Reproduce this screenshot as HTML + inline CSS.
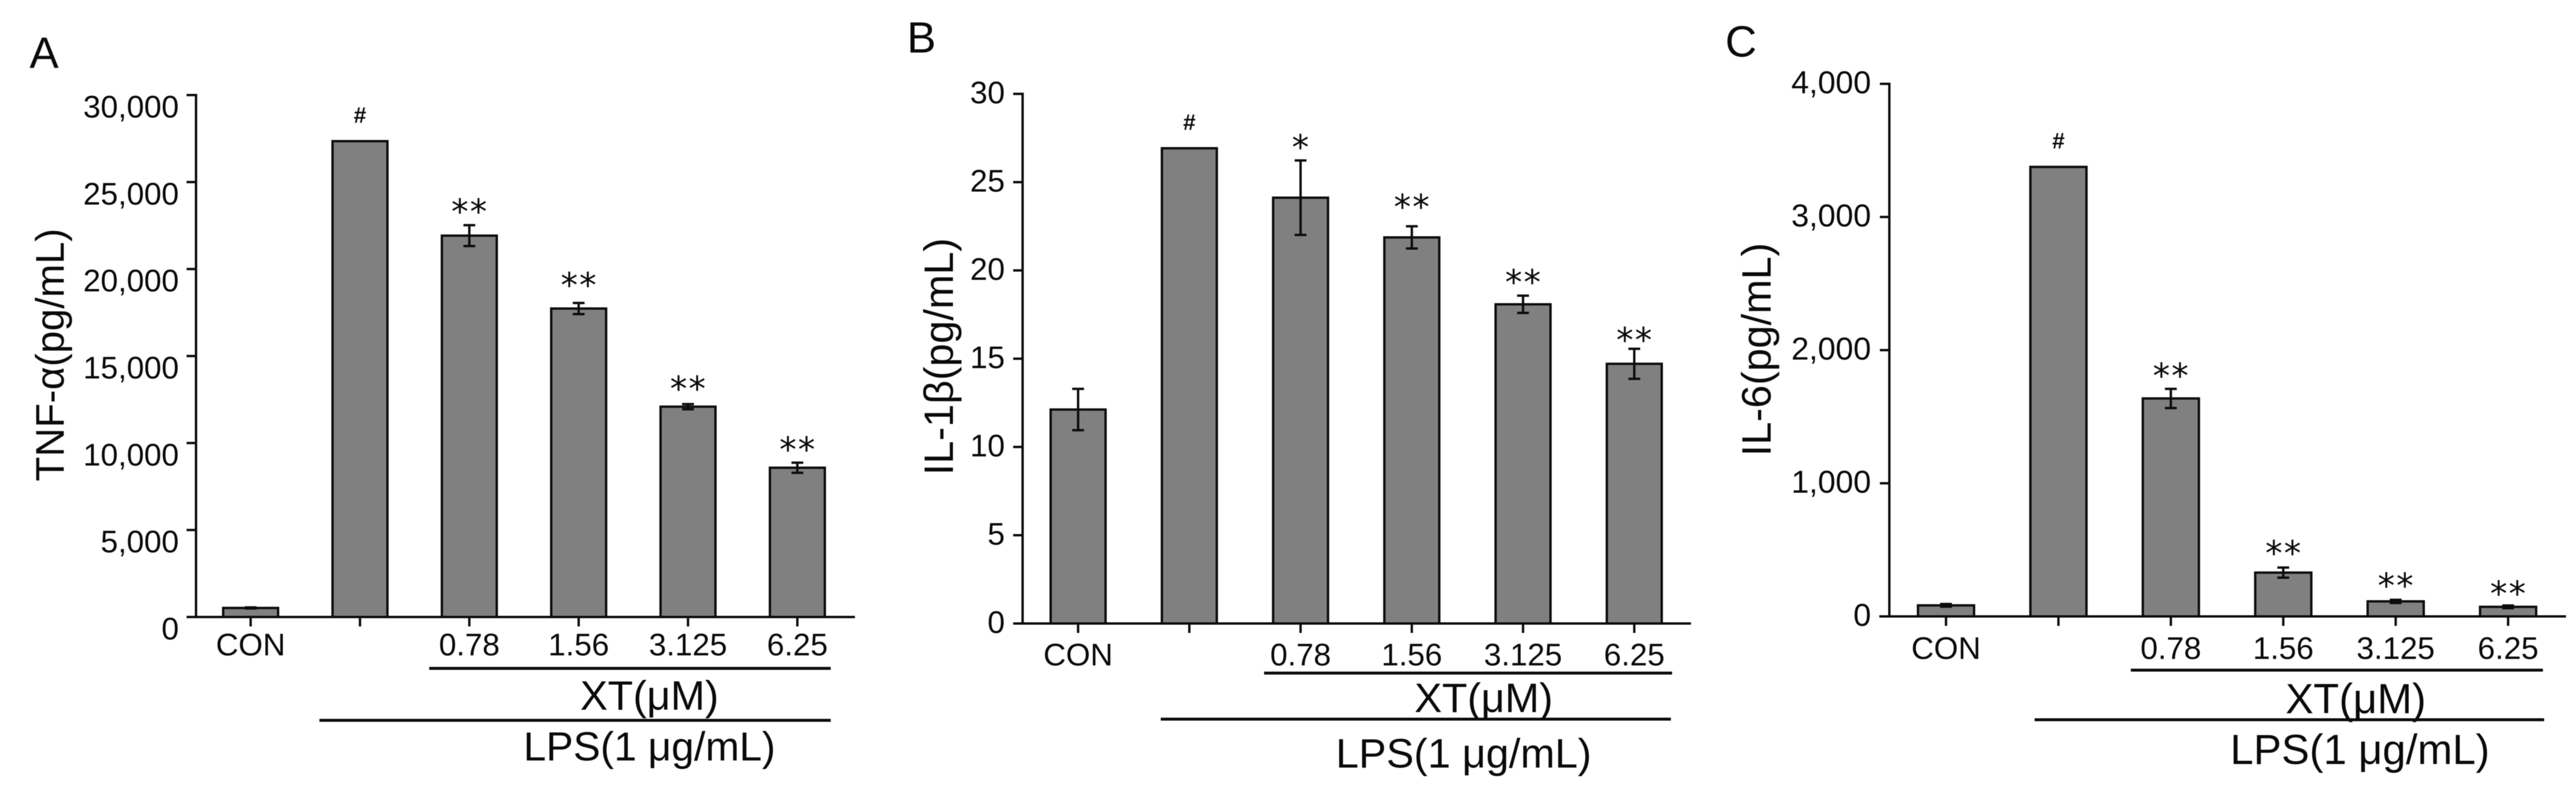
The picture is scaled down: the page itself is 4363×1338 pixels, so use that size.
<!DOCTYPE html>
<html lang="en">
<head>
<meta charset="utf-8">
<title>Cytokine bar charts</title>
<style>
html,body{margin:0;padding:0;background:#fff;width:4363px;height:1338px;overflow:hidden}
svg{display:block;filter:blur(0.5px)}
text{font-family:"Liberation Sans",Arial,sans-serif;fill:#0a0a0a}
</style>
</head>
<body>
<svg id="figure" xmlns="http://www.w3.org/2000/svg" width="4363" height="1338" viewBox="0 0 4363 1338"></svg>
<script>
// ---- data ----
const categories = ['CON', '', '0.78', '1.56', '3.125', '6.25'];

const tnfValues = [520, 27350, 21920, 17730, 12090, 8580];
const tnfErrors = [30, 0, 600, 322, 150, 290];
const tnfMarks = ['', '#', '**', '**', '**', '**'];
const tnfTicks = [0, 5000, 10000, 15000, 20000, 25000, 30000];

const il1Values = [12.12, 26.92, 24.12, 21.87, 18.08, 14.71];
const il1Errors = [1.17, 0, 2.11, 0.63, 0.49, 0.85];
const il1Marks = ['', '#', '*', '**', '**', '**'];
const il1Ticks = [0, 5, 10, 15, 20, 25, 30];

const il6Values = [83, 3376, 1637, 329, 113, 72];
const il6Errors = [10, 0, 72, 38, 12, 10];
const il6Marks = ['', '#', '**', '**', '**', '**'];
const il6Ticks = [0, 1000, 2000, 3000, 4000];

// ---- layout ----
const panels = [
  {id:'a', letter:'A', lx:50, ly:115, title:'TNF-α(pg/mL)', titleSize:68, tx:108, ty:601,
   values:tnfValues, errors:tnfErrors, marks:tnfMarks, ticks:tnfTicks, gaps:[0,0,33,40,36,32],
   axisX:332, top:161, base:1045, xStart:316, xEnd:1448, first:424.5, step:185.2, barW:93,
   labelRight:303, labelDy:38, labelSize:53, catBase:1110,
   xtLine:[727,1407,1132], xtText:[1100,1202], xtSize:70,
   lpsLine:[541,1407,1220], lpsText:[1100,1288], lpsSize:69},
  {id:'b', letter:'B', lx:1536, ly:89, title:'IL-1β(pg/mL)', titleSize:70, tx:1614, ty:604,
   values:il1Values, errors:il1Errors, marks:il1Marks, ticks:il1Ticks, gaps:[0,0,32,43,33,25],
   axisX:1732, top:159, base:1056, xStart:1716, xEnd:2864, first:1826, step:188.4, barW:93,
   labelRight:1702, labelDy:16, labelSize:53, catBase:1127,
   xtLine:[2141,2832,1140], xtText:[2513,1206], xtSize:70,
   lpsLine:[1966,2830,1218], lpsText:[2479,1300], lpsSize:70},
  {id:'c', letter:'C', lx:2922, ly:96, title:'IL-6(pg/mL)', titleSize:70, tx:2999, ty:592,
   values:il6Values, errors:il6Errors, marks:il6Marks, ticks:il6Ticks, gaps:[0,0,32,34,34,30],
   axisX:3200, top:142, base:1044, xStart:3183, xEnd:4346, first:3296, step:190.4, barW:95,
   labelRight:3169, labelDy:16, labelSize:54, catBase:1116,
   xtLine:[3609,4307,1135], xtText:[3990,1208], xtSize:71,
   lpsLine:[3446,4309,1219], lpsText:[3997,1294], lpsSize:71}
];

const NS = 'http://www.w3.org/2000/svg';
const svg = document.getElementById('figure');

function make(parent, tag, name, attrs, txt) {
  const el = document.createElementNS(NS, tag);
  
  
  for (const k in attrs) el.setAttribute(k, attrs[k]);
  if (txt !== undefined) el.textContent = txt;
  parent.appendChild(el);
  return el;
}
function line(parent, name, x1, y1, x2, y2, w, color) {
  return make(parent, 'line', name, {x1:x1, y1:y1, x2:x2, y2:y2, stroke:color || '#0c0c0c', 'stroke-width':w || 4});
}
function fmt(v) { return v.toLocaleString('en-US'); }

panels.forEach(function (p) {
  const g = make(svg, 'g', 'panel-' + p.id, {});
  const maxV = p.ticks[p.ticks.length - 1];
  const yScale = function (v) { return p.base - (v / maxV) * (p.base - p.top); };
  const xScale = function (i) { return p.first + i * p.step; };

  make(g, 'text', 'panel-letter-' + p.id, {x:p.lx, y:p.ly, 'font-size':74}, p.letter);
  make(g, 'text', 'y-axis-title-' + p.id, {x:0, y:0, 'font-size':p.titleSize, 'text-anchor':'middle',
    transform:'translate(' + p.tx + ' ' + p.ty + ') rotate(-90)'}, p.title);

  // bars
  p.values.forEach(function (v, i) {
    const y = yScale(v);
    make(g, 'rect', 'bar-' + p.id + '-' + i, {x:xScale(i) - p.barW / 2, y:y, width:p.barW, height:p.base - y,
      fill:'#808080', stroke:'#0c0c0c', 'stroke-width':4});
  });

  // error bars
  p.errors.forEach(function (e, i) {
    if (!e) return;
    const x = xScale(i), hi = yScale(p.values[i] + e), lo = yScale(p.values[i] - e);
    line(g, 'error-stem-' + p.id + '-' + i, x, hi, x, lo, 4);
    line(g, 'error-cap-top-' + p.id + '-' + i, x - 10, hi, x + 10, hi, 4);
    line(g, 'error-cap-bottom-' + p.id + '-' + i, x - 10, lo, x + 10, lo, 4);
  });

  // significance marks
  p.marks.forEach(function (m, i) {
    if (!m) return;
    const x = xScale(i);
    if (m === '#') {
      make(g, 'text', 'hash-mark-' + p.id, {x:x, y:yScale(p.values[i]) - 31, 'font-size':38, 'font-weight':'bold', 'text-anchor':'middle'}, m);
    } else {
      const t = make(g, 'text', 'significance-mark-' + p.id + '-' + i,
        {x:x + 1, y:yScale(p.values[i] + p.errors[i]) - p.gaps[i] + 30, 'font-size':58, 'text-anchor':'middle', 'letter-spacing':2.5}, m);
      t.style.fontFamily = '"DejaVu Sans", sans-serif';
    }
  });

  // y axis
  line(g, 'y-axis-' + p.id, p.axisX, p.top - 2, p.axisX, p.base, 4);
  p.ticks.forEach(function (t) {
    const y = yScale(t);
    line(g, 'y-tick-' + p.id + '-' + t, p.axisX - 16, y, p.axisX, y, 4);
    make(g, 'text', 'y-tick-label-' + p.id + '-' + t,
      {x:p.labelRight, y:y + p.labelDy, 'font-size':p.labelSize, 'text-anchor':'end'}, fmt(t));
  });

  // x axis
  line(g, 'x-axis-' + p.id, p.xStart, p.base, p.xEnd, p.base, 4);
  categories.forEach(function (c, i) {
    const x = xScale(i);
    line(g, 'x-tick-' + p.id + '-' + i, x, p.base, x, p.base + 16, 4);
    if (c) make(g, 'text', 'x-tick-label-' + p.id + '-' + i,
      {x:x, y:p.catBase, 'font-size':53, 'text-anchor':'middle'}, c);
  });

  // treatment groupings
  line(g, 'xt-bracket-' + p.id, p.xtLine[0], p.xtLine[2], p.xtLine[1], p.xtLine[2], 5);
  make(g, 'text', 'xt-label-' + p.id, {x:p.xtText[0], y:p.xtText[1], 'font-size':p.xtSize, 'text-anchor':'middle'}, 'XT(μM)');
  line(g, 'lps-bracket-' + p.id, p.lpsLine[0], p.lpsLine[2], p.lpsLine[1], p.lpsLine[2], 5);
  make(g, 'text', 'lps-label-' + p.id, {x:p.lpsText[0], y:p.lpsText[1], 'font-size':p.lpsSize, 'text-anchor':'middle'}, 'LPS(1 μg/mL)');
});
</script>
</body>
</html>
